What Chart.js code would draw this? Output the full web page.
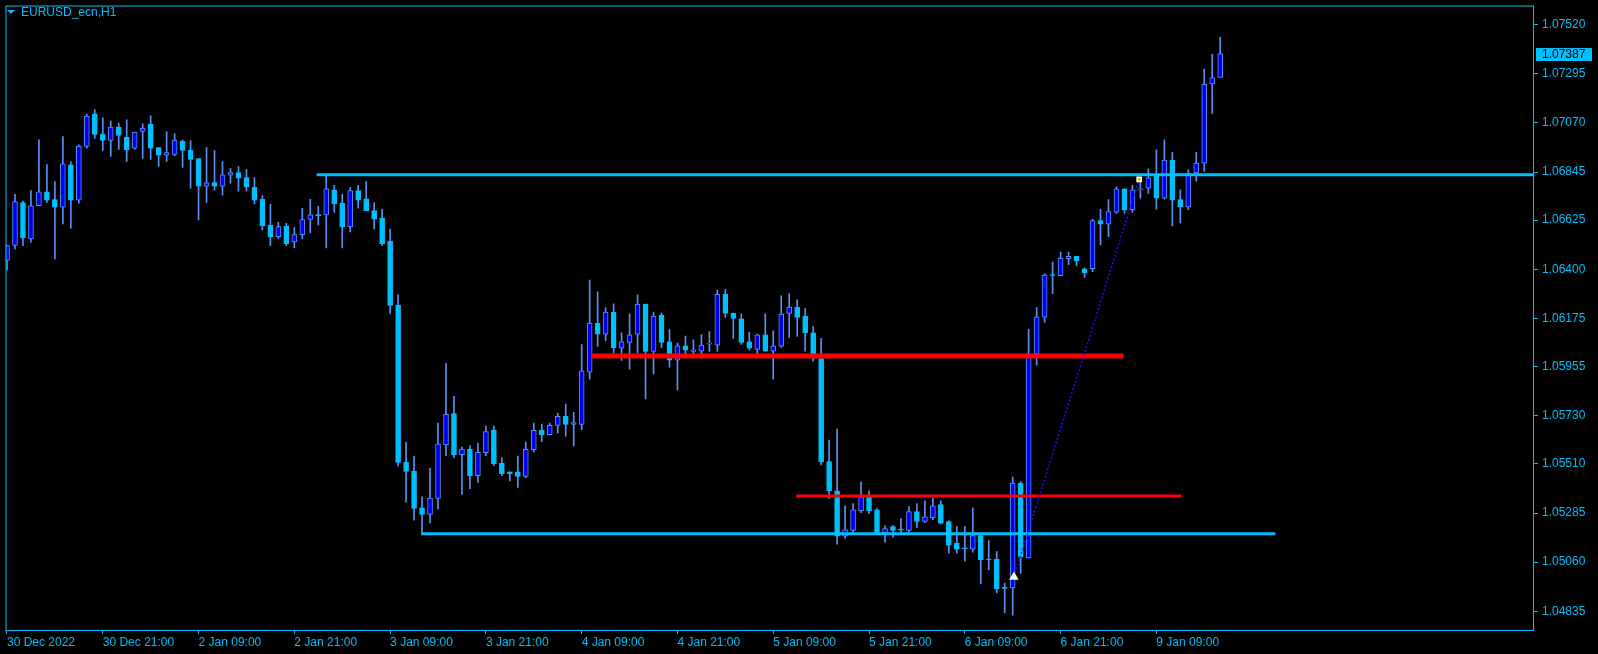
<!DOCTYPE html>
<html>
<head>
<meta charset="utf-8">
<title>EURUSD_ecn,H1</title>
<script src="https://cdn.jsdelivr.net/npm/chart.js@4.4.0/dist/chart.umd.min.js"></script>
<style>
  html, body { margin: 0; padding: 0; background: #000; overflow: hidden; }
  canvas { display: block; }
</style>
</head>
<body>
<canvas id="chart" width="1598" height="654"></canvas>
<script>
// EURUSD_ecn H1 candles, 30 Dec 2022 09:00 .. 9 Jan 2023 17:00
const opens = [
  1.06441, 1.06509, 1.06706, 1.06539, 1.06691, 1.06755, 1.06719, 1.06685, 1.06878, 1.06717,
  1.06963, 1.07110, 1.07019, 1.06990, 1.07051, 1.07005, 1.06954, 1.07031, 1.07065, 1.06957,
  1.06922, 1.06926, 1.06987, 1.06946, 1.06907, 1.06781, 1.06797, 1.06781, 1.06831, 1.06843,
  1.06820, 1.06775, 1.06720, 1.06602, 1.06549, 1.06597, 1.06526, 1.06559, 1.06628, 1.06648,
  1.06649, 1.06764, 1.06702, 1.06594, 1.06760, 1.06723, 1.06669, 1.06633, 1.06529, 1.06236,
  1.05517, 1.05476, 1.05309, 1.05279, 1.05352, 1.05597, 1.05740, 1.05552, 1.05576, 1.05456,
  1.05561, 1.05663, 1.05514, 1.05473, 1.05473, 1.05452, 1.05575, 1.05663, 1.05643, 1.05686,
  1.05727, 1.05690, 1.05690, 1.05930, 1.06154, 1.06103, 1.06204, 1.06039, 1.06066, 1.06103,
  1.06241, 1.06024, 1.06191, 1.06068, 1.05984, 1.06050, 1.06024, 1.06025, 1.06058, 1.06053,
  1.06286, 1.06200, 1.06173, 1.06068, 1.06034, 1.06100, 1.06025, 1.06048, 1.06198, 1.06227,
  1.06186, 1.06110, 1.05992, 1.05520, 1.05387, 1.05179, 1.05205, 1.05296, 1.05359, 1.05300,
  1.05194, 1.05223, 1.05208, 1.05205, 1.05291, 1.05246, 1.05264, 1.05323, 1.05246, 1.05146,
  1.05122, 1.05120, 1.05182, 1.05072, 1.05073, 1.04944, 1.04942, 1.05422, 1.05080, 1.06012,
  1.06181, 1.06373, 1.06371, 1.06449, 1.06460, 1.06402, 1.06403, 1.06623, 1.06607, 1.06662,
  1.06769, 1.06673, 1.06764, 1.06772, 1.06827, 1.06726, 1.06900, 1.06719, 1.06686, 1.06841,
  1.06886, 1.07249, 1.07278
];
const highs = [
  1.06509, 1.06743, 1.06712, 1.06761, 1.06993, 1.06879, 1.06802, 1.07007, 1.06893, 1.06970,
  1.07111, 1.07130, 1.07093, 1.07078, 1.07069, 1.07084, 1.07028, 1.07066, 1.07102, 1.06957,
  1.07029, 1.07020, 1.06993, 1.06989, 1.06907, 1.06957, 1.06943, 1.06893, 1.06861, 1.06870,
  1.06857, 1.06820, 1.06738, 1.06697, 1.06615, 1.06611, 1.06591, 1.06679, 1.06720, 1.06688,
  1.06829, 1.06784, 1.06743, 1.06775, 1.06784, 1.06802, 1.06706, 1.06675, 1.06584, 1.06283,
  1.05610, 1.05545, 1.05359, 1.05491, 1.05696, 1.05969, 1.05819, 1.05587, 1.05592, 1.05605,
  1.05683, 1.05683, 1.05537, 1.05473, 1.05546, 1.05610, 1.05696, 1.05692, 1.05696, 1.05742,
  1.05783, 1.05746, 1.06056, 1.06351, 1.06297, 1.06224, 1.06242, 1.06110, 1.06197, 1.06283,
  1.06241, 1.06204, 1.06200, 1.06124, 1.06063, 1.06095, 1.06078, 1.06101, 1.06115, 1.06305,
  1.06309, 1.06200, 1.06197, 1.06113, 1.06104, 1.06197, 1.06119, 1.06279, 1.06288, 1.06260,
  1.06220, 1.06138, 1.06083, 1.05619, 1.05669, 1.05318, 1.05328, 1.05428, 1.05387, 1.05305,
  1.05227, 1.05227, 1.05259, 1.05314, 1.05328, 1.05341, 1.05355, 1.05341, 1.05250, 1.05223,
  1.05223, 1.05309, 1.05182, 1.05159, 1.05109, 1.04964, 1.05450, 1.05429, 1.06126, 1.06225,
  1.06379, 1.06433, 1.06479, 1.06479, 1.06460, 1.06407, 1.06629, 1.06675, 1.06719, 1.06778,
  1.06769, 1.06784, 1.06816, 1.06860, 1.06947, 1.06993, 1.06935, 1.06764, 1.06855, 1.06935,
  1.07316, 1.07384, 1.07462
];
const lows = [
  1.06397, 1.06494, 1.06508, 1.06524, 1.06691, 1.06706, 1.06448, 1.06608, 1.06589, 1.06703,
  1.06954, 1.06999, 1.06944, 1.06917, 1.06949, 1.06894, 1.06949, 1.06908, 1.06903, 1.06872,
  1.06894, 1.06920, 1.06867, 1.06772, 1.06626, 1.06706, 1.06762, 1.06740, 1.06794, 1.06758,
  1.06758, 1.06699, 1.06580, 1.06508, 1.06539, 1.06508, 1.06498, 1.06539, 1.06567, 1.06603,
  1.06498, 1.06661, 1.06498, 1.06571, 1.06680, 1.06668, 1.06585, 1.06508, 1.06198, 1.05500,
  1.05334, 1.05252, 1.05196, 1.05238, 1.05302, 1.05547, 1.05538, 1.05370, 1.05396, 1.05425,
  1.05547, 1.05502, 1.05456, 1.05432, 1.05402, 1.05447, 1.05564, 1.05611, 1.05643, 1.05651,
  1.05637, 1.05592, 1.05666, 1.05898, 1.06047, 1.06074, 1.06016, 1.05983, 1.05943, 1.06016,
  1.05807, 1.05921, 1.06042, 1.05952, 1.05848, 1.06007, 1.06006, 1.05993, 1.06024, 1.06024,
  1.06180, 1.06084, 1.06057, 1.06030, 1.06011, 1.06025, 1.05898, 1.06043, 1.06089, 1.06093,
  1.06025, 1.05980, 1.05505, 1.05352, 1.05142, 1.05170, 1.05196, 1.05287, 1.05282, 1.05194,
  1.05150, 1.05174, 1.05196, 1.05196, 1.05218, 1.05241, 1.05255, 1.05237, 1.05101, 1.05101,
  1.05065, 1.05106, 1.04960, 1.05024, 1.04919, 1.04828, 1.04818, 1.05008, 1.05080, 1.05961,
  1.06158, 1.06289, 1.06371, 1.06421, 1.06416, 1.06363, 1.06389, 1.06512, 1.06549, 1.06656,
  1.06656, 1.06662, 1.06726, 1.06747, 1.06675, 1.06721, 1.06599, 1.06612, 1.06673, 1.06803,
  1.06848, 1.07113, 1.07278
];
const closes = [
  1.06509, 1.06710, 1.06544, 1.06691, 1.06755, 1.06717, 1.06685, 1.06883, 1.06717, 1.06964,
  1.07101, 1.07017, 1.06990, 1.07051, 1.07013, 1.06946, 1.07028, 1.07046, 1.06954, 1.06922,
  1.06934, 1.06992, 1.06944, 1.06903, 1.06781, 1.06796, 1.06781, 1.06832, 1.06843, 1.06817,
  1.06776, 1.06717, 1.06599, 1.06549, 1.06596, 1.06517, 1.06559, 1.06628, 1.06650, 1.06646,
  1.06769, 1.06699, 1.06594, 1.06760, 1.06717, 1.06668, 1.06630, 1.06517, 1.06235, 1.05516,
  1.05475, 1.05306, 1.05279, 1.05353, 1.05601, 1.05736, 1.05552, 1.05578, 1.05456, 1.05563,
  1.05658, 1.05511, 1.05465, 1.05465, 1.05452, 1.05576, 1.05663, 1.05643, 1.05686, 1.05727,
  1.05690, 1.05699, 1.05936, 1.06154, 1.06103, 1.06204, 1.06042, 1.06068, 1.06100, 1.06241,
  1.06024, 1.06186, 1.06066, 1.05984, 1.06050, 1.06030, 1.06032, 1.06054, 1.06060, 1.06286,
  1.06198, 1.06175, 1.06066, 1.06039, 1.06100, 1.06025, 1.06050, 1.06195, 1.06227, 1.06180,
  1.06109, 1.05993, 1.05520, 1.05387, 1.05179, 1.05208, 1.05300, 1.05359, 1.05296, 1.05194,
  1.05214, 1.05205, 1.05207, 1.05291, 1.05246, 1.05268, 1.05318, 1.05237, 1.05138, 1.05120,
  1.05121, 1.05182, 1.05070, 1.05070, 1.04938, 1.04940, 1.05422, 1.05083, 1.06013, 1.06183,
  1.06374, 1.06372, 1.06451, 1.06460, 1.06440, 1.06385, 1.06623, 1.06607, 1.06664, 1.06769,
  1.06673, 1.06764, 1.06766, 1.06819, 1.06726, 1.06900, 1.06717, 1.06686, 1.06841, 1.06886,
  1.07247, 1.07278, 1.07387
];

// time axis: bar index of each label, and the label
const xTickIndex = [0, 12, 24, 36, 48, 60, 72, 84, 96, 108, 120, 132, 144];
const xTickLabels = [
  '30 Dec 2022', '30 Dec 21:00', '2 Jan 09:00', '2 Jan 21:00', '3 Jan 09:00',
  '3 Jan 21:00', '4 Jan 09:00', '4 Jan 21:00', '5 Jan 09:00', '5 Jan 21:00',
  '6 Jan 09:00', '6 Jan 21:00', '9 Jan 09:00'
];

// price axis labels
const yTickValues = [1.07520, 1.07295, 1.07070, 1.06845, 1.06625, 1.06400, 1.06175,
                     1.05955, 1.05730, 1.05510, 1.05285, 1.05060, 1.04835];

// horizontal levels drawn on the chart (price, first bar, last bar)
const levelPrices = [1.06833, 1.05190, 1.06004, 1.05363];
const levelFrom   = [38.8, 51.9, 73.2, 98.9];
const levelTo     = [191.4, 158.9, 139.9, 147.1];

// trade line (open -> close)
const tradeX = [126.15, 141.85];
const tradeY = [1.04992, 1.06812];

// colours
const axisColor = '#00BFFF';
const wickColor = '#5C8FF2';
const bullFill = '#0000F0';
const bearFill = '#00BFFF';
const levelColors = ['#00BFFF', '#00BFFF', '#FF0000', '#FF0000'];
const levelWidths = [3, 3, 5, 3];

const xMin = -0.1875, xMax = 191.3125;
const yMin = 1.047496, yMax = 1.076074;

Chart.defaults.font.family = '"Liberation Sans", Arial, sans-serif';
Chart.defaults.font.size = 12;

const idx = opens.map((_, i) => i);
const isBull = idx.map(i => closes[i] > opens[i]);

const datasets = [
  {
    type: 'bar',
    label: 'wicks',
    data: idx.map(i => ({ x: i, y: [lows[i], highs[i]] })),
    backgroundColor: wickColor,
    barThickness: 1,
    grouped: false,
    order: 3
  },
  {
    type: 'bar',
    label: 'bodies',
    data: idx.map(i => ({ x: i, y: [opens[i], closes[i]] })),
    backgroundColor: idx.map(i => isBull[i] ? bullFill : bearFill),
    borderColor: idx.map(i => isBull[i] ? wickColor : bearFill),
    borderWidth: 1,
    borderSkipped: false,
    barThickness: 5,
    minBarLength: 1,
    grouped: false,
    order: 2
  }
];

levelPrices.forEach((p, k) => {
  datasets.push({
    type: 'line',
    data: [{ x: levelFrom[k], y: p }, { x: levelTo[k], y: p }],
    borderColor: levelColors[k],
    borderWidth: levelWidths[k],
    pointRadius: 0,
    order: 1
  });
});

datasets.push({
  type: 'line',
  data: tradeX.map((x, k) => ({ x: x, y: tradeY[k] })),
  borderColor: '#1414FF',
  borderWidth: 1.5,
  borderDash: [2, 2],
  pointRadius: [4, 3],
  pointStyle: ['triangle', 'rect'],
  pointBackgroundColor: ['#FFFFFF', '#FFB000'],
  pointBorderColor: ['#FFFFFF', '#FFFFFF'],
  order: 0
});

// frame, title and the current price box, MT4 style
const mtDecor = {
  id: 'mtDecor',
  afterDraw(chart) {
    const { ctx, chartArea: a, scales } = chart;
    ctx.save();
    ctx.strokeStyle = axisColor;
    ctx.lineWidth = 1;
    ctx.strokeRect(a.left + 0.5, a.top + 0.5, a.right - a.left - 1, a.bottom - a.top);

    // title
    ctx.fillStyle = axisColor;
    ctx.beginPath();
    ctx.moveTo(7, 10);
    ctx.lineTo(15, 10);
    ctx.lineTo(11, 14);
    ctx.closePath();
    ctx.fill();
    ctx.font = '12px "Liberation Sans", Arial, sans-serif';
    ctx.textBaseline = 'middle';
    ctx.textAlign = 'left';
    ctx.fillText('EURUSD_ecn,H1', 21, 12.5);

    // last price label
    const last = closes[closes.length - 1];
    const py = Math.round(scales.y.getPixelForValue(last));
    ctx.fillRect(a.right + 2, py - 6, 56, 13);
    ctx.fillStyle = '#000';
    ctx.fillText(last.toFixed(5), a.right + 8, py + 0.5);
    ctx.restore();
  }
};

new Chart(document.getElementById('chart'), {
  type: 'bar',
  data: { datasets: datasets },
  plugins: [mtDecor],
  options: {
    responsive: false,
    animation: false,
    devicePixelRatio: 1,
    events: [],
    layout: { padding: { left: 2, top: 2, right: 0, bottom: 0 } },
    plugins: { legend: { display: false }, tooltip: { enabled: false } },
    scales: {
      x: {
        type: 'linear',
        min: xMin,
        max: xMax,
        offset: false,
        afterBuildTicks: s => { s.ticks = xTickIndex.map(v => ({ value: v })); },
        afterFit: s => {
          s.height = 24;
          s.paddingLeft = 0; s.paddingRight = 0;
        },
        grid: { offset: false, drawOnChartArea: false, drawTicks: true, tickLength: 4, color: axisColor },
        border: { display: false },
        ticks: {
          color: axisColor,
          align: 'start',
          maxRotation: 0,
          autoSkip: false,
          padding: 1,
          callback: v => {
            const k = xTickIndex.indexOf(v);
            return k >= 0 ? xTickLabels[k] : '';
          }
        }
      },
      y: {
        position: 'right',
        min: yMin,
        max: yMax,
        afterBuildTicks: s => { s.ticks = yTickValues.map(v => ({ value: v })); },
        afterFit: s => {
          s.width = 64;
          s.paddingTop = 0; s.paddingBottom = 0;
        },
        grid: { drawOnChartArea: false, drawTicks: true, tickLength: 4, color: axisColor },
        border: { display: false },
        ticks: { color: axisColor, padding: 4, callback: v => v.toFixed(5) }
      }
    }
  }
});
</script>
</body>
</html>
